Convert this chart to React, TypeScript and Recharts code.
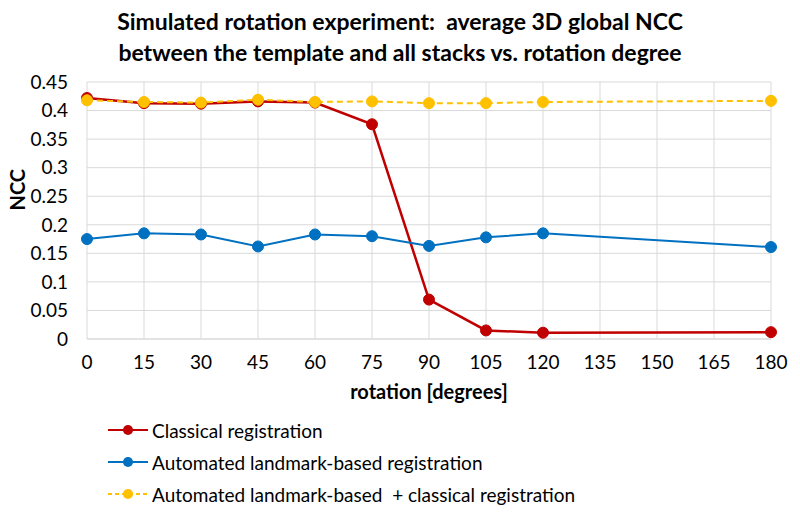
import { CartesianGrid, Line, LineChart, XAxis, YAxis } from "recharts"

const rotations = [0, 15, 30, 45, 60, 75, 90, 105, 120, 180]
const classical = [0.422, 0.413, 0.412, 0.416, 0.414, 0.376, 0.069, 0.015, 0.011, 0.012]
const landmark = [0.175, 0.185, 0.183, 0.162, 0.183, 0.18, 0.163, 0.178, 0.185, 0.161]
const combined = [0.418, 0.415, 0.414, 0.419, 0.415, 0.416, 0.413, 0.413, 0.415, 0.417]

const xTicks = [0, 15, 30, 45, 60, 75, 90, 105, 120, 135, 150, 165, 180]
const yTicks = [0, 0.05, 0.1, 0.15, 0.2, 0.25, 0.3, 0.35, 0.4, 0.45]

const SERIES = [
  { key: "classical", label: "Classical registration", color: "#c00000", dash: undefined },
  { key: "landmark", label: "Automated landmark-based registration", color: "#0070c0", dash: undefined },
  { key: "combined", label: "Automated landmark-based\u00a0 + classical registration", color: "#ffc000", dash: "6 4" },
] as const

const FONT = "Lato, 'Open Sans', sans-serif"

export default function App() {
  const data = rotations.map((r, i) => ({
    rotation: r,
    classical: classical[i],
    landmark: landmark[i],
    combined: combined[i],
  }))

  return (
    <div style={{ position: "absolute", left: 0, top: 0, width: 800, height: 518, background: "#fff", fontFamily: FONT }}>
      <div style={{ position: "absolute", top: 6, left: 0, width: 800, textAlign: "center", fontWeight: 700, fontSize: 23, lineHeight: "31px", color: "#000" }}>
        Simulated rotation experiment:&nbsp; average 3D global NCC
        <br />
        between the template and all stacks vs. rotation degree
      </div>
      <LineChart width={800} height={518} data={data} margin={{ top: 82, right: 29, bottom: 119, left: 0 }}>
        <CartesianGrid stroke="#d9d9d9" strokeWidth={1} />
        <XAxis
          dataKey="rotation"
          type="number"
          domain={[0, 180]}
          ticks={xTicks}
          interval={0}
          height={60}
          axisLine={{ stroke: "#d9d9d9" }}
          tickLine={false}
          tick={{ fontSize: 19, fill: "#000", fontFamily: FONT }}
          tickMargin={11}
          label={{ value: "rotation [degrees]", position: "insideBottom", offset: 0, fontSize: 20, fontWeight: 700, fill: "#000", fontFamily: FONT }}
        />
        <YAxis
          type="number"
          domain={[0, 0.45]}
          ticks={yTicks}
          interval={0}
          width={87}
          axisLine={false}
          tickLine={false}
          tick={{ fontSize: 19, fill: "#000", fontFamily: FONT }}
          tickFormatter={(v: number) => String(Number(v.toFixed(2)))}
          tickMargin={13}
          label={{ value: "NCC", angle: -90, position: "insideLeft", offset: 18, fontSize: 20, fontWeight: 700, fill: "#000", fontFamily: FONT }}
        />
        {SERIES.map((s) => (
          <Line
            key={s.key}
            dataKey={s.key}
            stroke={s.color}
            strokeWidth={s.key === "classical" ? 2.5 : 2}
            strokeDasharray={s.dash}
            dot={{ r: 5.5, fill: s.color, stroke: s.color, strokeWidth: 1, strokeDasharray: "" }}
            isAnimationActive={false}
            type="linear"
          />
        ))}
      </LineChart>
      <div style={{ position: "absolute", left: 108, top: 414, fontSize: 19, color: "#000" }}>
        {SERIES.map((s) => (
          <div key={s.key} style={{ display: "flex", alignItems: "center", height: 32 }}>
            <svg width={42} height={14} style={{ marginRight: 2 }}>
              <line x1={0} y1={7} x2={40} y2={7} stroke={s.color} strokeWidth={2} strokeDasharray={s.dash ? "4 3" : undefined} />
              <circle cx={20} cy={7} r={5} fill={s.color} />
            </svg>
            <span style={{ whiteSpace: "pre" }}>{s.label}</span>
          </div>
        ))}
      </div>
    </div>
  )
}
